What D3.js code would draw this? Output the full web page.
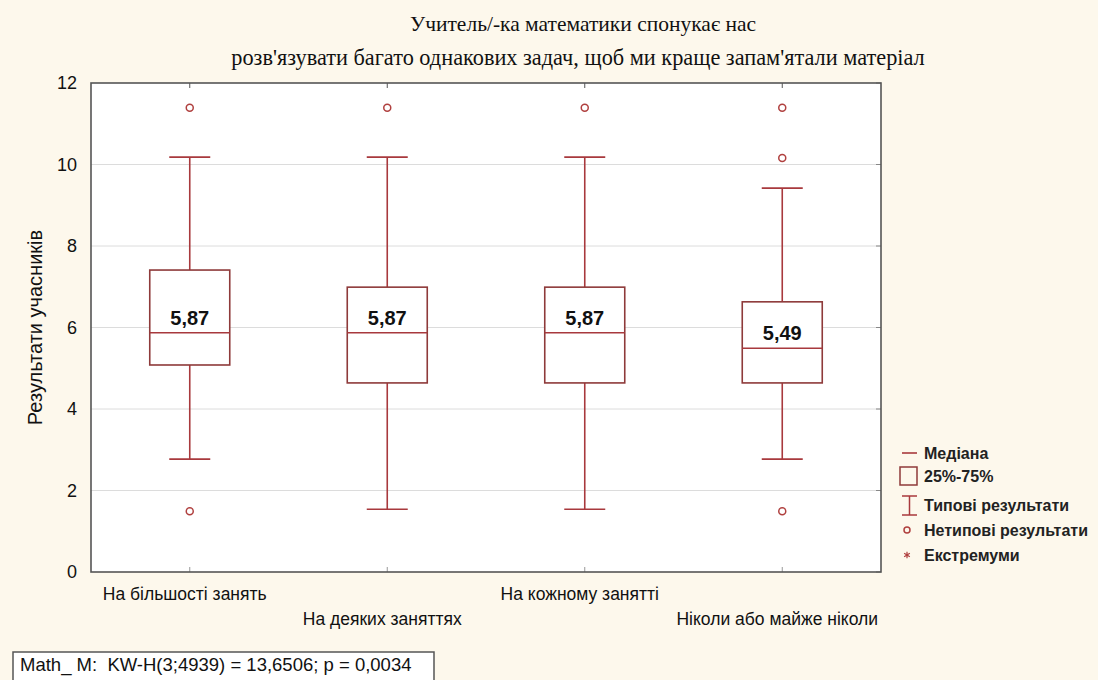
<!DOCTYPE html>
<html><head><meta charset="utf-8">
<script src="https://cdn.jsdelivr.net/npm/d3@7"></script>
<style>html,body{margin:0;padding:0;background:#fdf8ec;}svg{display:block;}</style>
</head><body>
<svg id="c" width="1098" height="680"></svg>
<script>
const categories = ["На більшості занять","На деяких заняттях","На кожному занятті","Ніколи або майже ніколи"];
const medians  = [5.87, 5.87, 5.87, 5.49];
const q1       = [5.08, 4.64, 4.64, 4.64];
const q3       = [7.41, 6.99, 6.99, 6.63];
const whiskLow = [2.77, 1.54, 1.54, 2.77];
const whiskHigh= [10.18, 10.18, 10.18, 9.42];
const outliers = [[11.39, 1.49],[11.39],[11.39],[11.39, 10.16, 1.49]];
const medianLabels = ["5,87","5,87","5,87","5,49"];
const yTicks = [0,2,4,6,8,10,12];
const titleLines = ["Учитель/-ка математики спонукає нас","розв'язувати багато однакових задач, щоб ми краще запам'ятали матеріал"];
const yLabel = "Результати учасників";
const legendItems = ["Медіана","25%-75%","Типові результати","Нетипові результати","Екстремуми"];
const statText = "Math_ M:  KW-H(3;4939) = 13,6506; p = 0,0034";

const svg = d3.select("#c");
const L=91,R=881,T=83,B=572;
const x = d3.scaleBand().domain(categories).range([L,R]);
const y = d3.scaleLinear().domain([0,12]).range([B,T]);
const boxC="#8e3a3a", whC="#a8393d", outC="#b0403f";
const SANS="Liberation Sans, Arial, sans-serif";

svg.append("rect").attr("width",1098).attr("height",680).attr("fill","#fdf8ec");
svg.append("rect").attr("x",L).attr("y",T).attr("width",R-L).attr("height",B-T).attr("fill","#fff");

// gridlines
svg.append("g").selectAll("line").data(yTicks.filter(d=>d>0&&d<12)).join("line")
  .attr("x1",L).attr("x2",R).attr("y1",d=>y(d)).attr("y2",d=>y(d))
  .attr("stroke","#dcdcdc").attr("stroke-width",1);

// y axis
const ya = svg.append("g").attr("transform",`translate(${L},0)`)
  .call(d3.axisLeft(y).tickValues(yTicks).tickSize(0).tickPadding(14).tickFormat(d3.format("d")));
ya.select(".domain").remove();
ya.selectAll("text").attr("font-family",SANS).attr("font-size",18).attr("fill","#111");
// right inward ticks
svg.append("g").selectAll("line").data(yTicks).join("line")
  .attr("x1",R-5).attr("x2",R).attr("y1",d=>y(d)).attr("y2",d=>y(d)).attr("stroke","#888");
// top/bottom inward ticks at categories
const cx = d=>x(d)+x.bandwidth()/2;
svg.append("g").selectAll("line").data(categories).join("line")
  .attr("x1",cx).attr("x2",cx).attr("y1",T).attr("y2",T+5).attr("stroke","#555");
svg.append("g").selectAll("line").data(categories).join("line")
  .attr("x1",cx).attr("x2",cx).attr("y1",B).attr("y2",B-5).attr("stroke","#999");

// frame
svg.append("rect").attr("x",L).attr("y",T).attr("width",R-L).attr("height",B-T)
  .attr("fill","none").attr("stroke","#555").attr("stroke-width",1.6);

// boxes
const g = svg.append("g");
const bw=80, cw=41;
categories.forEach((c,i)=>{
  const X=cx(c);
  g.append("line").attr("x1",X).attr("x2",X).attr("y1",y(whiskHigh[i])).attr("y2",y(q3[i])).attr("stroke",whC).attr("stroke-width",1.6);
  g.append("line").attr("x1",X).attr("x2",X).attr("y1",y(q1[i])).attr("y2",y(whiskLow[i])).attr("stroke",whC).attr("stroke-width",1.6);
  g.append("line").attr("x1",X-cw/2).attr("x2",X+cw/2).attr("y1",y(whiskHigh[i])).attr("y2",y(whiskHigh[i])).attr("stroke",whC).attr("stroke-width",1.6);
  g.append("line").attr("x1",X-cw/2).attr("x2",X+cw/2).attr("y1",y(whiskLow[i])).attr("y2",y(whiskLow[i])).attr("stroke",whC).attr("stroke-width",1.6);
  g.append("rect").attr("x",X-bw/2).attr("y",y(q3[i])).attr("width",bw).attr("height",y(q1[i])-y(q3[i]))
    .attr("fill","#fff").attr("stroke",boxC).attr("stroke-width",1.6);
  g.append("line").attr("x1",X-bw/2).attr("x2",X+bw/2).attr("y1",y(medians[i])).attr("y2",y(medians[i])).attr("stroke",whC).attr("stroke-width",1.6);
  g.append("text").attr("x",X).attr("y",y(medians[i])-8).attr("text-anchor","middle")
    .attr("font-family",SANS).attr("font-weight","bold").attr("font-size",20).attr("fill","#111").text(medianLabels[i]);
  outliers[i].forEach(v=>{
    g.append("circle").attr("cx",X).attr("cy",y(v)).attr("r",3.5).attr("fill","none").attr("stroke",outC).attr("stroke-width",1.5);
  });
});

// x labels staggered
svg.append("g").selectAll("text").data(categories).join("text")
  .attr("x",d=>cx(d)-5).attr("y",(d,i)=> i%2===0 ? 600 : 625).attr("text-anchor","middle")
  .attr("font-family",SANS).attr("font-size",17.5).attr("fill","#111")
  .text(d=>d);

// title
svg.append("g").selectAll("text").data(titleLines).join("text")
  .attr("x",(d,i)=> i===0 ? 583 : 578).attr("y",(d,i)=>31+i*34).attr("text-anchor","middle")
  .attr("font-family","Liberation Serif, 'Times New Roman', serif").attr("font-size",(d,i)=> i===0 ? 21.5 : 22.3).attr("fill","#111")
  .text(d=>d);

// y label
svg.append("text").attr("transform",`translate(42,${(T+B)/2}) rotate(-90)`).attr("text-anchor","middle")
  .attr("font-family",SANS).attr("font-size",20).attr("fill","#111").text(yLabel);

// legend
const lg = svg.append("g").attr("font-family",SANS).attr("font-size",16).attr("fill","#111");
const ly = [453, 476, 505, 530, 555];
legendItems.forEach((t,i)=>{
  lg.append("text").attr("x",924).attr("y",ly[i]+6).attr("font-weight", "bold").attr("fill","#222").text(t);
});
lg.append("line").attr("x1",902).attr("x2",917).attr("y1",ly[0]).attr("y2",ly[0]).attr("stroke",whC).attr("stroke-width",1.6);
lg.append("rect").attr("x",900).attr("y",ly[1]-9).attr("width",17).attr("height",18).attr("fill","none").attr("stroke",boxC).attr("stroke-width",1.5);
lg.append("line").attr("x1",902).attr("x2",917).attr("y1",ly[2]-9).attr("y2",ly[2]-9).attr("stroke",whC).attr("stroke-width",1.5);
lg.append("line").attr("x1",902).attr("x2",917).attr("y1",ly[2]+10).attr("y2",ly[2]+10).attr("stroke",whC).attr("stroke-width",1.5);
lg.append("line").attr("x1",909.5).attr("x2",909.5).attr("y1",ly[2]-9).attr("y2",ly[2]+10).attr("stroke",whC).attr("stroke-width",1.5);
lg.append("circle").attr("cx",907).attr("cy",ly[3]).attr("r",3).attr("fill","none").attr("stroke",outC).attr("stroke-width",1.5);
lg.append("path").attr("d",d3.symbol(d3.symbolAsterisk,30)()).attr("transform",`translate(907,${ly[4]})`).attr("fill","none").attr("stroke",outC).attr("stroke-width",1.2);

// stats box
svg.append("rect").attr("x",13).attr("y",652).attr("width",421).attr("height",34).attr("fill","#fff").attr("stroke","#555").attr("stroke-width",1.5);
svg.append("text").attr("x",20).attr("y",671).attr("font-family",SANS).attr("font-size",18.5).attr("fill","#111")
  .attr("xml:space","preserve").style("white-space","pre").text(statText);
</script>
</body></html>
